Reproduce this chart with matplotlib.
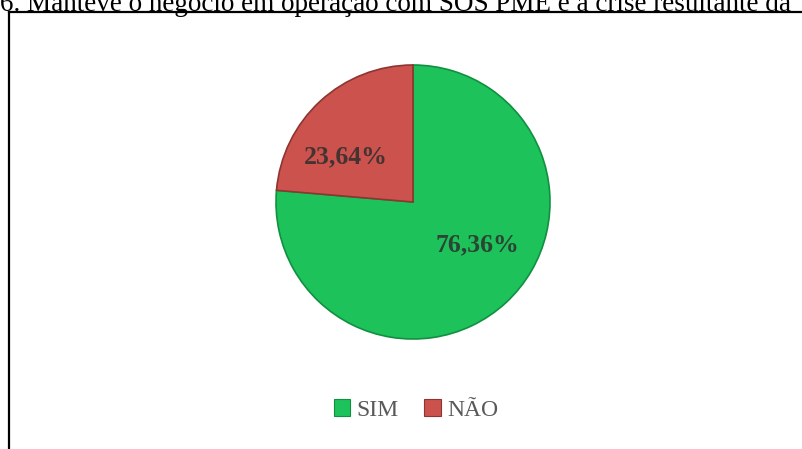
import matplotlib.pyplot as plt
from matplotlib.patches import Patch
from matplotlib.lines import Line2D

labels = ['SIM', 'NÃO']
values = [76.36, 23.64]
colors = ['#1dc25a', '#cc524e']
edges = ['#109040', '#8e3431']
title = '6. Manteve o negócio em operação com SOS PME e a crise resultante da'

W, H = 803, 449
fig = plt.figure(figsize=(W / 100, H / 100), dpi=100)

# caption cut off at the top of the crop
fig.text(0.0, (H - 11) / H, title, fontsize=19.5, family='Liberation Serif',
         va='baseline', ha='left', color='black')

# chart frame (only left and top visible)
fig.add_artist(Line2D([9 / W, 9 / W], [0, (H - 12) / H], transform=fig.transFigure,
                      color='black', lw=1.6))
fig.add_artist(Line2D([9 / W, 1], [(H - 12) / H, (H - 12) / H], transform=fig.transFigure,
                      color='black', lw=1.6))

r = 137
lim = 1.2
size = r * lim * 2
cx, cy = 413, H - 202
ax = fig.add_axes([(cx - size / 2) / W, (cy - size / 2) / H, size / W, size / H])

wedges, texts, autotexts = ax.pie(values, colors=colors, startangle=90, counterclock=False,
                                  autopct=lambda p: f'{p:.2f}%'.replace('.', ','),
                                  wedgeprops=dict(linewidth=1.2))
for w, ec in zip(wedges, edges):
    w.set_edgecolor(ec)

label_pos = [(0.47, -0.31), (-0.49, 0.33)]
for t, pos in zip(autotexts, label_pos):
    t.set_position(pos)
    t.set_fontsize(18.5)
    t.set_fontweight('bold')
    t.set_family('Liberation Serif')
    t.set_color('#2e2e2e')
    t.set_alpha(0.85)

ax.set_xlim(-lim, lim)
ax.set_ylim(-lim, lim)
ax.set_aspect('equal')
ax.axis('off')

handles = [Patch(facecolor=c, edgecolor=e, lw=0.8) for c, e in zip(colors, edges)]
fig.legend(handles, labels, loc='center', bbox_to_anchor=(416 / W, (H - 410) / H),
           ncol=2, frameon=False, handlelength=0.7, handleheight=0.7,
           handletextpad=0.25, columnspacing=1.1,
           prop={'family': 'Liberation Serif', 'size': 17}, labelcolor='#595959')

fig.savefig('out.png', dpi=100)
